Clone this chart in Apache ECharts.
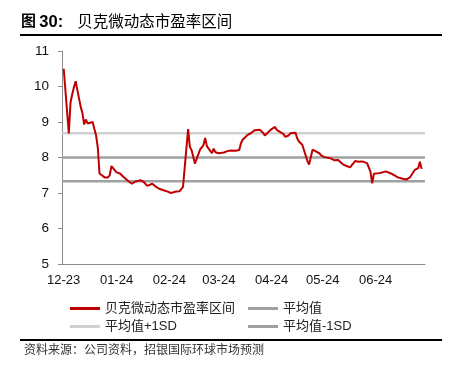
<!DOCTYPE html>
<html>
<head>
<meta charset="utf-8">
<script src="https://cdn.jsdelivr.net/npm/echarts@6/dist/echarts.min.js"></script>
<style>html,body{margin:0;padding:0;background:#fff;}#c{width:449px;height:368px;}</style>
</head>
<body>
<div id="c"></div>
<script>
// Axis range (calendar days) and trading-day values (weekdays from 2023-12-01)
const axisStart = '2023-11-30';
const axisEnd = '2024-06-30';
const firstTradingDay = '2023-12-01';
const lastTradingDay = '2024-06-28';
const peDec = [10.50, 8.68, 9.55, 9.78, 9.98, 10.15, 9.42, 9.25, 8.93, 9.07, 8.96, 9.00, 8.80, 8.62, 8.28, 7.55, 7.44, 7.42, 7.44, 7.50, 7.76];
const peJan = [7.58, 7.56, 7.55, 7.52, 7.46, 7.33, 7.30, 7.26, 7.29, 7.32, 7.36, 7.33, 7.31, 7.28, 7.20, 7.26, 7.22, 7.18, 7.16, 7.12, 7.07, 7.06, 7.04];
const peFeb = [7.02, 7.00, 7.04, 7.03, 7.05, 7.08, 7.17, 8.80, 8.30, 8.21, 8.16, 7.83, 8.22, 8.18, 8.35, 8.55, 8.32, 8.12, 8.25, 8.15, 8.11];
const peMar = [8.12, 8.14, 8.16, 8.18, 8.19, 8.20, 8.19, 8.18, 8.21, 8.40, 8.50, 8.64, 8.67, 8.69, 8.72, 8.77, 8.78, 8.77, 8.70, 8.62, 8.60];
const peApr = [8.80, 8.84, 8.86, 8.78, 8.76, 8.66, 8.58, 8.54, 8.62, 8.68, 8.70, 8.54, 8.45, 8.42, 8.36, 7.90, 7.80, 7.78, 8.22, 8.20, 8.12, 8.06];
const peMay = [8.03, 8.01, 8.00, 7.97, 7.95, 7.92, 7.89, 7.93, 7.80, 7.78, 7.76, 7.73, 7.72, 7.90, 7.89, 7.88, 7.88, 7.89, 7.84, 7.80, 7.60, 7.27, 7.54];
const peJun = [7.56, 7.57, 7.58, 7.60, 7.61, 7.55, 7.53, 7.50, 7.46, 7.44, 7.40, 7.39, 7.38, 7.39, 7.43, 7.65, 7.67, 7.70, 7.88, 7.68];
const meanValue = 8.00;
const plusSD = 8.68;
const minusSD = 7.33;
const seriesNames = ['贝克微动态市盈率区间', '平均值', '平均值+1SD', '平均值-1SD'];
const yTicks = [5, 6, 7, 8, 9, 10, 11];

function fmt(d) {
  const m = String(d.getUTCMonth() + 1).padStart(2, '0');
  const day = String(d.getUTCDate()).padStart(2, '0');
  return d.getUTCFullYear() + '-' + m + '-' + day;
}
const categories = [];
for (let d = new Date(axisStart + 'T00:00:00Z'); fmt(d) <= axisEnd; d.setUTCDate(d.getUTCDate() + 1)) {
  categories.push(fmt(d));
}
const tradingDates = [];
for (let d = new Date(firstTradingDay + 'T00:00:00Z'); fmt(d) <= lastTradingDay; d.setUTCDate(d.getUTCDate() + 1)) {
  const wd = d.getUTCDay();
  if (wd !== 0 && wd !== 6) tradingDates.push(fmt(d));
}
const peValues = [].concat(peDec, peJan, peFeb, peMar, peApr, peMay, peJun);
const peData = tradingDates.map((dt, i) => [categories.indexOf(dt), peValues[i]]);
const lastIdx = categories.length - 1;
const flat = v => [[0, v], [lastIdx, v]];

const FONT = "'Liberation Sans', 'Noto Sans CJK SC', sans-serif";
const chart = echarts.init(document.getElementById('c'), null, { renderer: 'canvas' });

function legendAt(name, left, top) {
  return {
    data: [name], left: left, top: top, orient: 'horizontal',
    icon: 'rect', itemWidth: 30, itemHeight: 3, itemGap: 5, padding: 0,
    selectedMode: false,
    textStyle: { fontFamily: FONT, fontSize: 13, color: '#222', padding: [0, 0, 0, 0] }
  };
}

chart.setOption({
  animation: false,
  backgroundColor: '#fff',
  textStyle: { fontFamily: FONT },
  grid: { left: 62, right: 24, top: 51, bottom: 104, containLabel: false },
  legend: [
    legendAt(seriesNames[0], 70, 302),
    legendAt(seriesNames[1], 248, 302),
    legendAt(seriesNames[2], 70, 320),
    legendAt(seriesNames[3], 248, 320)
  ],
  xAxis: {
    type: 'category', data: categories, boundaryGap: false,
    axisLine: { show: true, lineStyle: { color: '#8c8c8c', width: 1 } },
    axisTick: { show: false },
    axisLabel: {
      interval: (idx, val) => val.endsWith('-01'),
      formatter: val => val.slice(5, 7) + '-' + val.slice(2, 4),
      fontFamily: FONT, fontSize: 13, color: '#111', margin: 10
    },
    splitLine: { show: false }
  },
  yAxis: {
    type: 'value', min: yTicks[0], max: yTicks[yTicks.length - 1], interval: 1,
    axisLine: { show: true, lineStyle: { color: '#8c8c8c', width: 1 } },
    axisTick: { show: true, inside: false, length: 4, lineStyle: { color: '#8c8c8c' } },
    axisLabel: { fontFamily: FONT, fontSize: 13.5, color: '#111', margin: 13 },
    splitLine: { show: false }
  },
  series: [
    { name: seriesNames[0], type: 'line', data: peData, showSymbol: false, symbol: 'none', z: 5,
      lineStyle: { color: '#c00000', width: 2 }, itemStyle: { color: '#c00000' } },
    { name: seriesNames[1], type: 'line', data: flat(meanValue), showSymbol: false, symbol: 'none', z: 2,
      lineStyle: { color: '#a0a0a0', width: 2.5 }, itemStyle: { color: '#a0a0a0' } },
    { name: seriesNames[2], type: 'line', data: flat(plusSD), showSymbol: false, symbol: 'none', z: 2,
      lineStyle: { color: '#d0d0d0', width: 2.5 }, itemStyle: { color: '#d0d0d0' } },
    { name: seriesNames[3], type: 'line', data: flat(minusSD), showSymbol: false, symbol: 'none', z: 2,
      lineStyle: { color: '#a0a0a0', width: 2.5 }, itemStyle: { color: '#a0a0a0' } }
  ],
  graphic: [
    { type: 'text', left: 21, top: 14, style: {
        text: '{c|图} {b|30:}{n|贝克微动态市盈率区间}',
        rich: {
          c: { fontFamily: FONT, fontSize: 15, fontWeight: 'bold', fill: '#000' },
          b: { fontFamily: FONT, fontSize: 16.5, fontWeight: 'bold', fill: '#000' },
          n: { fontFamily: FONT, fontSize: 15.5, fill: '#000', padding: [0, 0, 0, 14] }
        } } },
    { type: 'rect', shape: { x: 20, y: 34, width: 422, height: 2 }, style: { fill: '#000' } },
    { type: 'rect', shape: { x: 20, y: 339, width: 422, height: 2 }, style: { fill: '#000' } },
    { type: 'text', left: 24, top: 345, style: {
        text: '资料来源：公司资料，招银国际环球市场预测',
        fontFamily: FONT, fontSize: 12, fill: '#333' } }
  ]
});
</script>
</body>
</html>
